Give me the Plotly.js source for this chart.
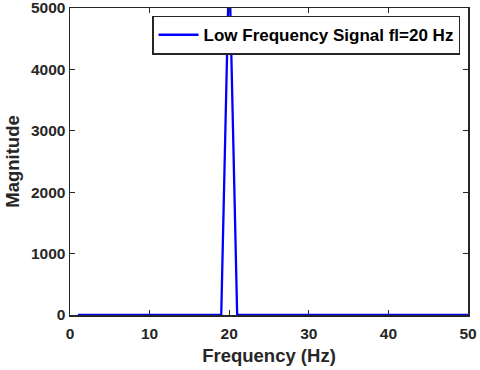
<!DOCTYPE html>
<html>
<head>
<meta charset="utf-8">
<script src="https://cdn.plot.ly/plotly-3.0.1.min.js"></script>
<style>
  html, body { margin: 0; padding: 0; background: #fff; }
  #chart { width: 480px; height: 370px; }
</style>
</head>
<body>
<div id="chart"></div>
<script>
// Spectre du signal basse fréquence (fl = 20 Hz)
const freqHz = [1, 2, 3, 4, 5, 6, 7, 8, 9, 10,
  11, 12, 13, 14, 15, 16, 17, 18, 19, 20,
  21, 22, 23, 24, 25, 26, 27, 28, 29, 30,
  31, 32, 33, 34, 35, 36, 37, 38, 39, 40,
  41, 42, 43, 44, 45, 46, 47, 48, 49, 50];
const magnitude = [0, 0, 0, 0, 0, 0, 0, 0, 0, 0,
  0, 0, 0, 0, 0, 0, 0, 0, 0, 5800,
  0, 0, 0, 0, 0, 0, 0, 0, 0, 0,
  0, 0, 0, 0, 0, 0, 0, 0, 0, 0,
  0, 0, 0, 0, 0, 0, 0, 0, 0, 0];
const seriesName = "Low Frequency Signal fl=20 Hz";
const xTicks = [0, 10, 20, 30, 40, 50];
const yTicks = [0, 1000, 2000, 3000, 4000, 5000];

const font = { family: "Liberation Sans, Arial, sans-serif", color: "#262626", weight: "bold" };

const axisBase = {
  showline: true,
  linecolor: "#262626",
  linewidth: 1.5,
  mirror: "ticks",
  ticks: "inside",
  ticklen: 5,
  tickwidth: 1.2,
  tickcolor: "#262626",
  showgrid: false,
  zeroline: false,
  ticklabeloverflow: "allow",
  tickfont: { ...font, size: 15.5 }
};

const trace = {
  x: freqHz,
  y: magnitude,
  type: "scatter",
  mode: "lines",
  name: seriesName,
  line: { color: "#0000ff", width: 2.3 }
};

const layout = {
  width: 480,
  height: 370,
  margin: { l: 70, r: 12, t: 8, b: 55 },
  paper_bgcolor: "#fff",
  plot_bgcolor: "#fff",
  showlegend: true,
  legend: {
    x: 0.98, y: 0.975, xanchor: "right", yanchor: "top",
    bgcolor: "#fff",
    bordercolor: "#262626",
    borderwidth: 1.5,
    font: { ...font, size: 17, color: "#000" },
    itemwidth: 40,
    tracegroupgap: 0
  },
  xaxis: {
    ...axisBase,
    range: [0, 50],
    tickvals: xTicks,
    ticklabelstandoff: 4,
    title: { text: "Frequency (Hz)", font: { ...font, size: 18.5 }, standoff: 8 }
  },
  yaxis: {
    ...axisBase,
    range: [0, 5000.5],
    tickvals: yTicks,
    title: { text: "Magnitude", font: { ...font, size: 18.5 }, standoff: 6 }
  }
};

Plotly.newPlot("chart", [trace], layout, { displayModeBar: false, staticPlot: true });
</script>
</body>
</html>
